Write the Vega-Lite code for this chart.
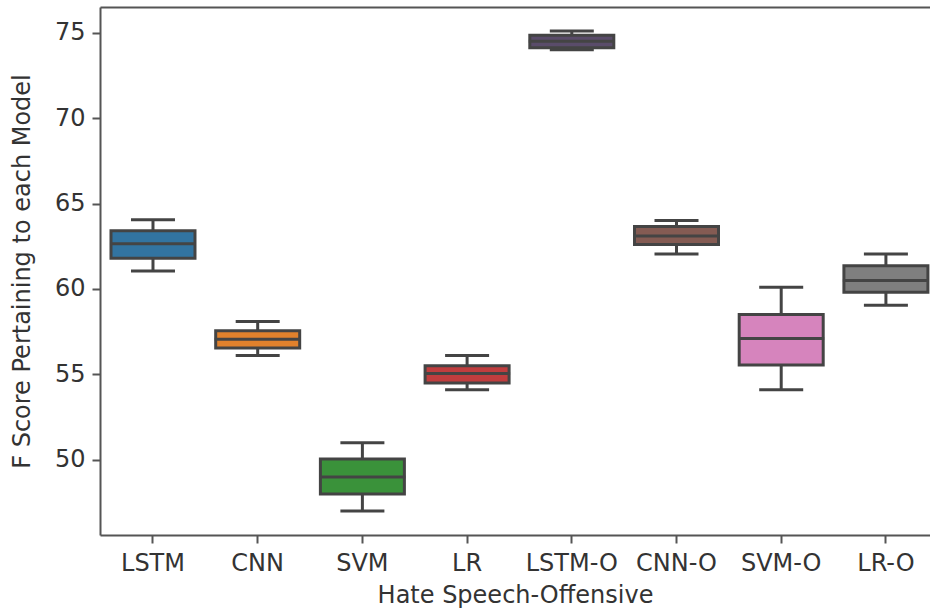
{
  "$schema": "https://vega.github.io/schema/vega-lite/v6.json",
  "width": 830,
  "height": 528,
  "autosize": {"type": "none"},
  "padding": {"left": 100, "top": 7, "right": 0, "bottom": 78},
  "background": "white",
  "config": {
    "view": {"stroke": null},
    "font": "DejaVu Sans",
    "axis": {
      "domainColor": "#555",
      "domainWidth": 2,
      "tickColor": "#555",
      "tickWidth": 2,
      "tickSize": 8,
      "grid": false,
      "labelFont": "DejaVu Sans",
      "labelFontSize": 24,
      "labelColor": "#333",
      "titleFont": "DejaVu Sans",
      "titleFontSize": 24,
      "titleFontWeight": "normal",
      "titleColor": "#333"
    }
  },
  "data": {
    "values": [
      {"model": "LSTM", "min": 61.05, "q1": 61.8, "median": 62.65, "q3": 63.4, "max": 64.05},
      {"model": "CNN", "min": 56.1, "q1": 56.55, "median": 57.05, "q3": 57.55, "max": 58.1},
      {"model": "SVM", "min": 47.0, "q1": 48.0, "median": 49.0, "q3": 50.05, "max": 51.0},
      {"model": "LR", "min": 54.1, "q1": 54.5, "median": 55.05, "q3": 55.5, "max": 56.1},
      {"model": "LSTM-O", "min": 74.0, "q1": 74.12, "median": 74.5, "q3": 74.85, "max": 75.1},
      {"model": "CNN-O", "min": 62.05, "q1": 62.6, "median": 63.1, "q3": 63.65, "max": 64.0},
      {"model": "SVM-O", "min": 54.1, "q1": 55.55, "median": 57.1, "q3": 58.5, "max": 60.1},
      {"model": "LR-O", "min": 59.05, "q1": 59.8, "median": 60.5, "q3": 61.35, "max": 62.05}
    ]
  },
  "resolve": {"axis": {"x": "independent"}},
  "layer": [
    {
      "mark": {"type": "rule", "color": "#444", "strokeWidth": 3},
      "encoding": {
        "x": {
          "field": "model", "type": "nominal", "sort": null,
          "scale": {"paddingInner": 0.2, "paddingOuter": 0.0636, "align": 0.834},
          "axis": {"title": "Hate Speech-Offensive", "labelAngle": 0, "labelPadding": 8, "titlePadding": 8}
        },
        "y": {
          "field": "min", "type": "quantitative",
          "scale": {"domain": [45.6, 76.5], "nice": false, "zero": false},
          "axis": {"title": "F Score Pertaining to each Model", "values": [50, 55, 60, 65, 70, 75], "labelPadding": 7, "titlePadding": 20}
        },
        "y2": {"field": "max"}
      }
    },
    {
      "mark": {"type": "tick", "color": "#444", "size": 44, "thickness": 3, "opacity": 1},
      "encoding": {
        "x": {
          "field": "model", "type": "nominal", "sort": null,
          "axis": {"orient": "top", "labels": false, "ticks": false, "title": null, "domain": true}
        },
        "y": {"field": "min", "type": "quantitative"}
      }
    },
    {
      "mark": {"type": "tick", "color": "#444", "size": 44, "thickness": 3, "opacity": 1},
      "encoding": {
        "x": {"field": "model", "type": "nominal", "sort": null, "axis": null},
        "y": {"field": "max", "type": "quantitative"}
      }
    },
    {
      "mark": {"type": "bar", "size": 84, "stroke": "#444", "strokeWidth": 3, "opacity": 1},
      "encoding": {
        "x": {"field": "model", "type": "nominal", "sort": null, "axis": null},
        "y": {"field": "q1", "type": "quantitative"},
        "y2": {"field": "q3"},
        "fill": {
          "field": "model", "type": "nominal", "legend": null,
          "scale": {
            "domain": ["LSTM", "CNN", "SVM", "LR", "LSTM-O", "CNN-O", "SVM-O", "LR-O"],
            "range": ["#3274a1", "#e1812c", "#3a923a", "#c03d3e", "#5a4c6a", "#845b53", "#d684bd", "#7f7f7f"]
          }
        }
      }
    },
    {
      "mark": {"type": "tick", "color": "#444", "size": 86, "thickness": 3, "opacity": 1},
      "encoding": {
        "x": {"field": "model", "type": "nominal", "sort": null, "axis": null},
        "y": {"field": "median", "type": "quantitative"}
      }
    }
  ]
}
